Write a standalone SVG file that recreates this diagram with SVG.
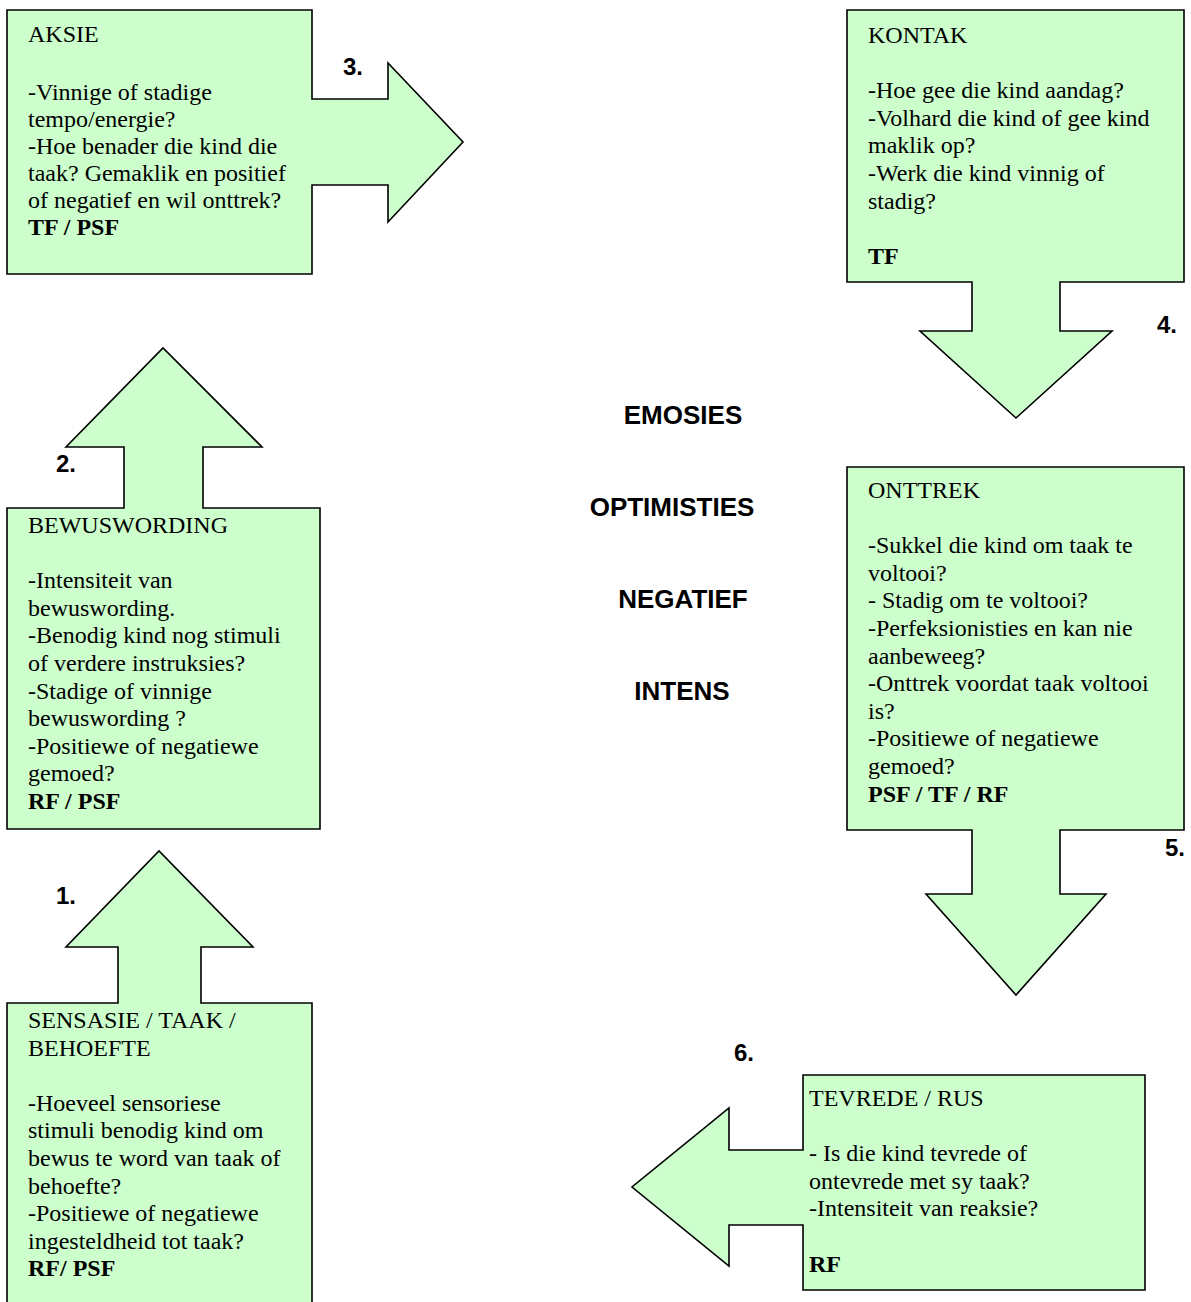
<svg xmlns="http://www.w3.org/2000/svg" width="1191" height="1302" viewBox="0 0 1191 1302">
<style>
.shape{fill:#CCFFCC;stroke:#000;stroke-width:1.6;stroke-linejoin:miter}
.t{font-family:"Liberation Serif","Times New Roman",serif;font-size:24px;fill:#000}
.b{font-weight:bold}
.lbl{font-family:"Liberation Sans",Arial,sans-serif;font-weight:bold;font-size:26px;fill:#000;text-anchor:middle}
.num{font-family:"Liberation Sans",Arial,sans-serif;font-weight:bold;font-size:24px;fill:#000}
</style>
<rect width="1191" height="1302" fill="#fff"/>

<g id="node-aksie">
<path class="shape" d="M7,10 H312 V99 H388 V63 L463,142 L388,222 V185 H312 V274 H7 Z"/>
<text class="t" x="28" y="42">AKSIE</text>
<text class="t" x="28" y="99.5">-Vinnige of stadige</text>
<text class="t" x="28" y="126.6">tempo/energie?</text>
<text class="t" x="28" y="153.8">-Hoe benader die kind die</text>
<text class="t" x="28" y="181">taak? Gemaklik en positief</text>
<text class="t" x="28" y="208.2">of negatief en wil onttrek?</text>
<text class="t b" x="28" y="235.4">TF / PSF</text>
<text class="num" x="343" y="75">3.</text>
</g>

<g id="node-kontak">
<path class="shape" d="M847,10 H1184 V282 H1060 V331 H1112 L1016,418 L920,331 H972 V282 H847 Z"/>
<text class="t" x="868" y="43">KONTAK</text>
<text class="t" x="868" y="98.2">-Hoe gee die kind aandag?</text>
<text class="t" x="868" y="125.8">-Volhard die kind of gee kind</text>
<text class="t" x="868" y="153.4">maklik op?</text>
<text class="t" x="868" y="181">-Werk die kind vinnig of</text>
<text class="t" x="868" y="208.6">stadig?</text>
<text class="t b" x="868" y="263.8">TF</text>
<text class="num" x="1157" y="333">4.</text>
</g>

<g id="node-bewuswording">
<path class="shape" d="M7,508 H124 V447 H66 L163,348 L262,447 H203 V508 H320 V829 H7 Z"/>
<text class="t" x="28" y="533">BEWUSWORDING</text>
<text class="t" x="28" y="588.2">-Intensiteit van</text>
<text class="t" x="28" y="615.8">bewuswording.</text>
<text class="t" x="28" y="643.4">-Benodig kind nog stimuli</text>
<text class="t" x="28" y="671">of verdere instruksies?</text>
<text class="t" x="28" y="698.6">-Stadige of vinnige</text>
<text class="t" x="28" y="726.2">bewuswording ?</text>
<text class="t" x="28" y="753.8">-Positiewe of negatiewe</text>
<text class="t" x="28" y="781.4">gemoed?</text>
<text class="t b" x="28" y="809">RF / PSF</text>
<text class="num" x="56" y="472">2.</text>
</g>

<g id="node-sensasie">
<path class="shape" d="M7,1003 H118 V947 H66 L159,851 L253,947 H201 V1003 H312 V1320 H7 Z"/>
<text class="t" x="28" y="1028">SENSASIE / TAAK /</text>
<text class="t" x="28" y="1055.6">BEHOEFTE</text>
<text class="t" x="28" y="1110.8">-Hoeveel sensoriese</text>
<text class="t" x="28" y="1138.4">stimuli benodig kind om</text>
<text class="t" x="28" y="1166">bewus te word van taak of</text>
<text class="t" x="28" y="1193.6">behoefte?</text>
<text class="t" x="28" y="1221.2">-Positiewe of negatiewe</text>
<text class="t" x="28" y="1248.8">ingesteldheid tot taak?</text>
<text class="t b" x="28" y="1276.4">RF/ PSF</text>
<text class="num" x="56" y="904">1.</text>
</g>

<g id="node-onttrek">
<path class="shape" d="M847,467 H1184 V830 H1060 V894 H1106 L1016,995 L926,894 H972 V830 H847 Z"/>
<text class="t" x="868" y="498">ONTTREK</text>
<text class="t" x="868" y="553.2">-Sukkel die kind om taak te</text>
<text class="t" x="868" y="580.8">voltooi?</text>
<text class="t" x="868" y="608.4">- Stadig om te voltooi?</text>
<text class="t" x="868" y="636">-Perfeksionisties en kan nie</text>
<text class="t" x="868" y="663.6">aanbeweeg?</text>
<text class="t" x="868" y="691.2">-Onttrek voordat taak voltooi</text>
<text class="t" x="868" y="718.8">is?</text>
<text class="t" x="868" y="746.4">-Positiewe of negatiewe</text>
<text class="t" x="868" y="774">gemoed?</text>
<text class="t b" x="868" y="801.6">PSF / TF / RF</text>
<text class="num" x="1165" y="856">5.</text>
</g>

<g id="node-tevrede">
<path class="shape" d="M803,1075 H1145 V1290 H803 V1225 H729 V1266 L632,1187 L729,1108 V1150 H803 Z"/>
<text class="t" x="809" y="1106">TEVREDE / RUS</text>
<text class="t" x="809" y="1161.2">- Is die kind tevrede of</text>
<text class="t" x="809" y="1188.8">ontevrede met sy taak?</text>
<text class="t" x="809" y="1216.4">-Intensiteit van reaksie?</text>
<text class="t b" x="809" y="1271.6">RF</text>
<text class="num" x="734" y="1061">6.</text>
</g>

<g id="center-labels">
<text class="lbl" x="683" y="424">EMOSIES</text>
<text class="lbl" x="672" y="516">OPTIMISTIES</text>
<text class="lbl" x="683" y="608">NEGATIEF</text>
<text class="lbl" x="682" y="700">INTENS</text>
</g>

<g id="connectors"></g>
</svg>
